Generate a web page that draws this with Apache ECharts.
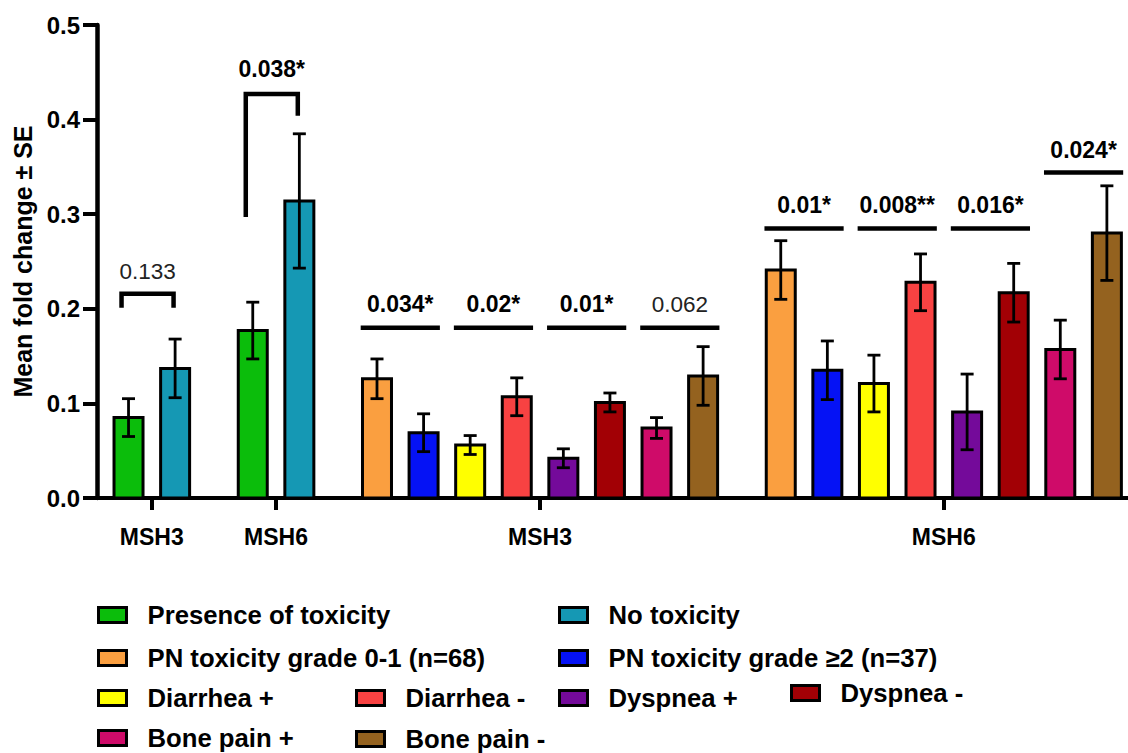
<!DOCTYPE html>
<html><head><meta charset="utf-8">
<script src="https://cdn.jsdelivr.net/npm/echarts@6/dist/echarts.min.js"></script>
<style>html,body{margin:0;padding:0;background:#fff}#c{width:1128px;height:753px}</style>
</head><body><div id="c"></div>
<script>
// ---------------- DATA ----------------
const groupLabels = ['MSH3', 'MSH6', 'MSH3', 'MSH6'];
const seriesNames = ['Presence of toxicity', 'No toxicity', 'PN toxicity grade 0-1 (n=68)', 'PN toxicity grade ≥2 (n=37)',
  'Diarrhea +', 'Diarrhea -', 'Dyspnea +', 'Dyspnea -', 'Bone pain +', 'Bone pain -'];
// which series appear in each group (in order)
const groupSeries = [[0, 1], [0, 1], [2, 3, 4, 5, 6, 7, 8, 9], [2, 3, 4, 5, 6, 7, 8, 9]];
// mean fold change (one value per group the series appears in)
const presenceTox = [0.085, 0.177];
const noTox = [0.137, 0.314];
const pnLow = [0.126, 0.241];
const pnHigh = [0.069, 0.135];
const diarrheaPos = [0.056, 0.121];
const diarrheaNeg = [0.107, 0.228];
const dyspneaPos = [0.042, 0.091];
const dyspneaNeg = [0.101, 0.217];
const bonePainPos = [0.074, 0.157];
const bonePainNeg = [0.129, 0.280];
// standard errors
const presenceToxSE = [0.020, 0.030];
const noToxSE = [0.031, 0.071];
const pnLowSE = [0.021, 0.031];
const pnHighSE = [0.020, 0.031];
const diarrheaPosSE = [0.010, 0.030];
const diarrheaNegSE = [0.020, 0.030];
const dyspneaPosSE = [0.010, 0.040];
const dyspneaNegSE = [0.010, 0.031];
const bonePainPosSE = [0.011, 0.031];
const bonePainNegSE = [0.031, 0.050];
// p-value comparisons
const pLabels = ['0.133', '0.038*', '0.034*', '0.02*', '0.01*', '0.062', '0.01*', '0.008**', '0.016*', '0.024*'];
const pGroups = [0, 1, 2, 2, 2, 2, 3, 3, 3, 3];
const pPairs = [[0, 1], [0, 1], [2, 3], [4, 5], [6, 7], [8, 9], [2, 3], [4, 5], [6, 7], [8, 9]];
const pLineLevels = [0.216, 0.427, 0.180, 0.180, 0.180, 0.180, 0.285, 0.285, 0.285, 0.344];
const pTextLevels = [0.239, 0.453, 0.205, 0.205, 0.205, 0.205, 0.310, 0.310, 0.310, 0.368];
const bracketLegEnds = [[0.201, 0.201], [0.297, 0.404], null, null, null, null, null, null, null, null];
// y ticks
const yTicks = { min: 0, max: 0.5, step: 0.1 };

// ---------------- STYLE / LAYOUT ----------------
const colors = ['#0bbd0b', '#1598b4', '#fa9f40', '#0512f5', '#ffff00', '#f84242', '#740a9a', '#a20005', '#cf0b69', '#94621f'];
const FONT = '"Liberation Sans", Arial, sans-serif';
const means = [presenceTox, noTox, pnLow, pnHigh, diarrheaPos, diarrheaNeg, dyspneaPos, dyspneaNeg, bonePainPos, bonePainNeg];
const ses = [presenceToxSE, noToxSE, pnLowSE, pnHighSE, diarrheaPosSE, diarrheaNegSE, dyspneaPosSE, dyspneaNegSE, bonePainPosSE, bonePainNegSE];
const STEP = 3, GAP = 2, BAR_W = 29, BORDER = 3;
const barPos = [];
const groupCenters = [];
const seriesData = seriesNames.map(() => []);
const errData = [];
let cursor = 0;
groupSeries.forEach((members, g) => {
  const pos = {};
  const start = cursor;
  members.forEach(s => {
    pos[s] = cursor;
    const k = seriesData[s].length;
    seriesData[s].push([cursor, means[s][k]]);
    errData.push([cursor, means[s][k], ses[s][k]]);
    cursor += STEP;
  });
  barPos.push(pos);
  groupCenters.push((start + cursor - STEP) / 2);
  cursor += GAP;
});
const annData = pLabels.map((t, i) => {
  const [a, b] = pPairs[i];
  return [(barPos[pGroups[i]][a] + barPos[pGroups[i]][b]) / 2, pLineLevels[i]];
});

const legendPlace = [
  [97, 601], [558, 601], [97, 644], [558, 644], [97, 684], [355, 684], [558, 684], [790, 679], [97, 724], [355, 725]
];

const chart = echarts.init(document.getElementById('c'), null, { renderer: 'svg' });
const option = {
  backgroundColor: '#fff',
  animation: false,
  grid: { left: 97, right: 0, top: 25, bottom: 255, containLabel: false },
  legend: seriesNames.map((n, i) => ({
    data: [n], left: legendPlace[i][0], top: legendPlace[i][1], selectedMode: false,
    icon: 'rect', itemWidth: 28, itemHeight: 15, padding: 0,
    itemStyle: { color: colors[i], borderColor: '#000', borderWidth: BORDER },
    textStyle: { fontFamily: FONT, fontWeight: 'bold', fontSize: 25.7, color: '#000', padding: [0, 0, 0, 16], lineHeight: 28 }
  })),
  xAxis: {
    type: 'value', min: -2.03, max: 64.36,
    splitLine: { show: false },
    axisLine: { onZero: false, lineStyle: { color: '#000', width: 4 } },
    axisTick: { show: true, customValues: groupCenters, length: 12, lineStyle: { color: '#000', width: 4 } },
    axisLabel: {
      customValues: groupCenters, margin: 27,
      formatter: v => { const i = groupCenters.findIndex(c => Math.abs(c - v) < 1e-6); return i >= 0 ? groupLabels[i] : ''; },
      fontFamily: FONT, fontWeight: 'bold', fontSize: 23, color: '#000'
    }
  },
  yAxis: {
    type: 'value', min: yTicks.min, max: yTicks.max, interval: yTicks.step,
    name: 'Mean fold change ± SE', nameLocation: 'middle', nameGap: 55, nameRotate: 90,
    nameTextStyle: { fontFamily: FONT, fontWeight: 'bold', fontSize: 25, color: '#000' },
    splitLine: { show: false },
    axisLine: { show: true, onZero: false, lineStyle: { color: '#000', width: 4.5 } },
    axisTick: { show: true, length: 14, lineStyle: { color: '#000', width: 4 } },
    axisLabel: { margin: 17, formatter: v => v.toFixed(1), fontFamily: FONT, fontWeight: 'bold', fontSize: 24, color: '#000' }
  },
  series: seriesNames.map((n, i) => ({
    name: n, type: 'custom', data: seriesData[i], encode: { x: 0, y: 1 }, z: 2,
    itemStyle: { color: colors[i], borderColor: '#000', borderWidth: BORDER },
    renderItem: (params, api) => {
      const x = api.value(0), v = api.value(1);
      const p0 = api.coord([x, 0]), p1 = api.coord([x, v]);
      return { type: 'rect', shape: { x: p1[0] - BAR_W / 2, y: p1[1], width: BAR_W, height: p0[1] - p1[1] },
        style: { fill: colors[i], stroke: '#000000', lineWidth: BORDER } };
    }
  })).concat([
    {
      type: 'custom', name: 'err', z: 5, data: errData,
      encode: { x: 0, y: 1 },
      renderItem: (params, api) => {
        const x = api.value(0), m = api.value(1), se = api.value(2);
        const top = api.coord([x, m + se]), bot = api.coord([x, m - se]);
        const st = { stroke: '#000', lineWidth: 2.8 };
        const cw = 6.5;
        return { type: 'group', children: [
          { type: 'line', shape: { x1: top[0], y1: top[1], x2: bot[0], y2: bot[1] }, style: st },
          { type: 'line', shape: { x1: top[0] - cw, y1: top[1], x2: top[0] + cw, y2: top[1] }, style: st },
          { type: 'line', shape: { x1: bot[0] - cw, y1: bot[1], x2: bot[0] + cw, y2: bot[1] }, style: st }
        ] };
      }
    },
    {
      type: 'custom', name: 'pvals', z: 6, data: annData,
      encode: { x: 0, y: 1 },
      renderItem: (params, api) => {
        const i = params.dataIndex;
        const g = pGroups[i], [a, b] = pPairs[i];
        const xa = barPos[g][a], xb = barPos[g][b];
        const legs = bracketLegEnds[i];
        const st = { stroke: '#000', lineWidth: 4.5, fill: null, lineJoin: 'miter', lineCap: 'butt' };
        const children = [];
        let cx;
        if (legs) {
          const l = xa - 0.45, r = xb - 0.1;
          const pts = [api.coord([l, legs[0]]), api.coord([l, pLineLevels[i]]), api.coord([r, pLineLevels[i]]), api.coord([r, legs[1]])];
          children.push({ type: 'polyline', shape: { points: pts }, style: st });
          cx = (pts[0][0] + pts[3][0]) / 2;
        } else {
          const p1 = api.coord([xa - 1.05, pLineLevels[i]]), p2 = api.coord([xb + 1.05, pLineLevels[i]]);
          children.push({ type: 'line', shape: { x1: p1[0], y1: p1[1], x2: p2[0], y2: p2[1] }, style: st });
          cx = (p1[0] + p2[0]) / 2;
        }
        const ty = api.coord([xa, pTextLevels[i]])[1];
        const bold = pLabels[i].indexOf('*') >= 0;
        children.push({ type: 'text', x: cx, y: ty, style: {
          text: pLabels[i], fill: bold ? '#000' : '#222', align: 'center', verticalAlign: 'middle',
          font: (bold ? 'bold 23px ' : '22.5px ') + FONT
        } });
        return { type: 'group', children };
      }
    }
  ])
};
chart.setOption(option);
</script>
</body></html>
